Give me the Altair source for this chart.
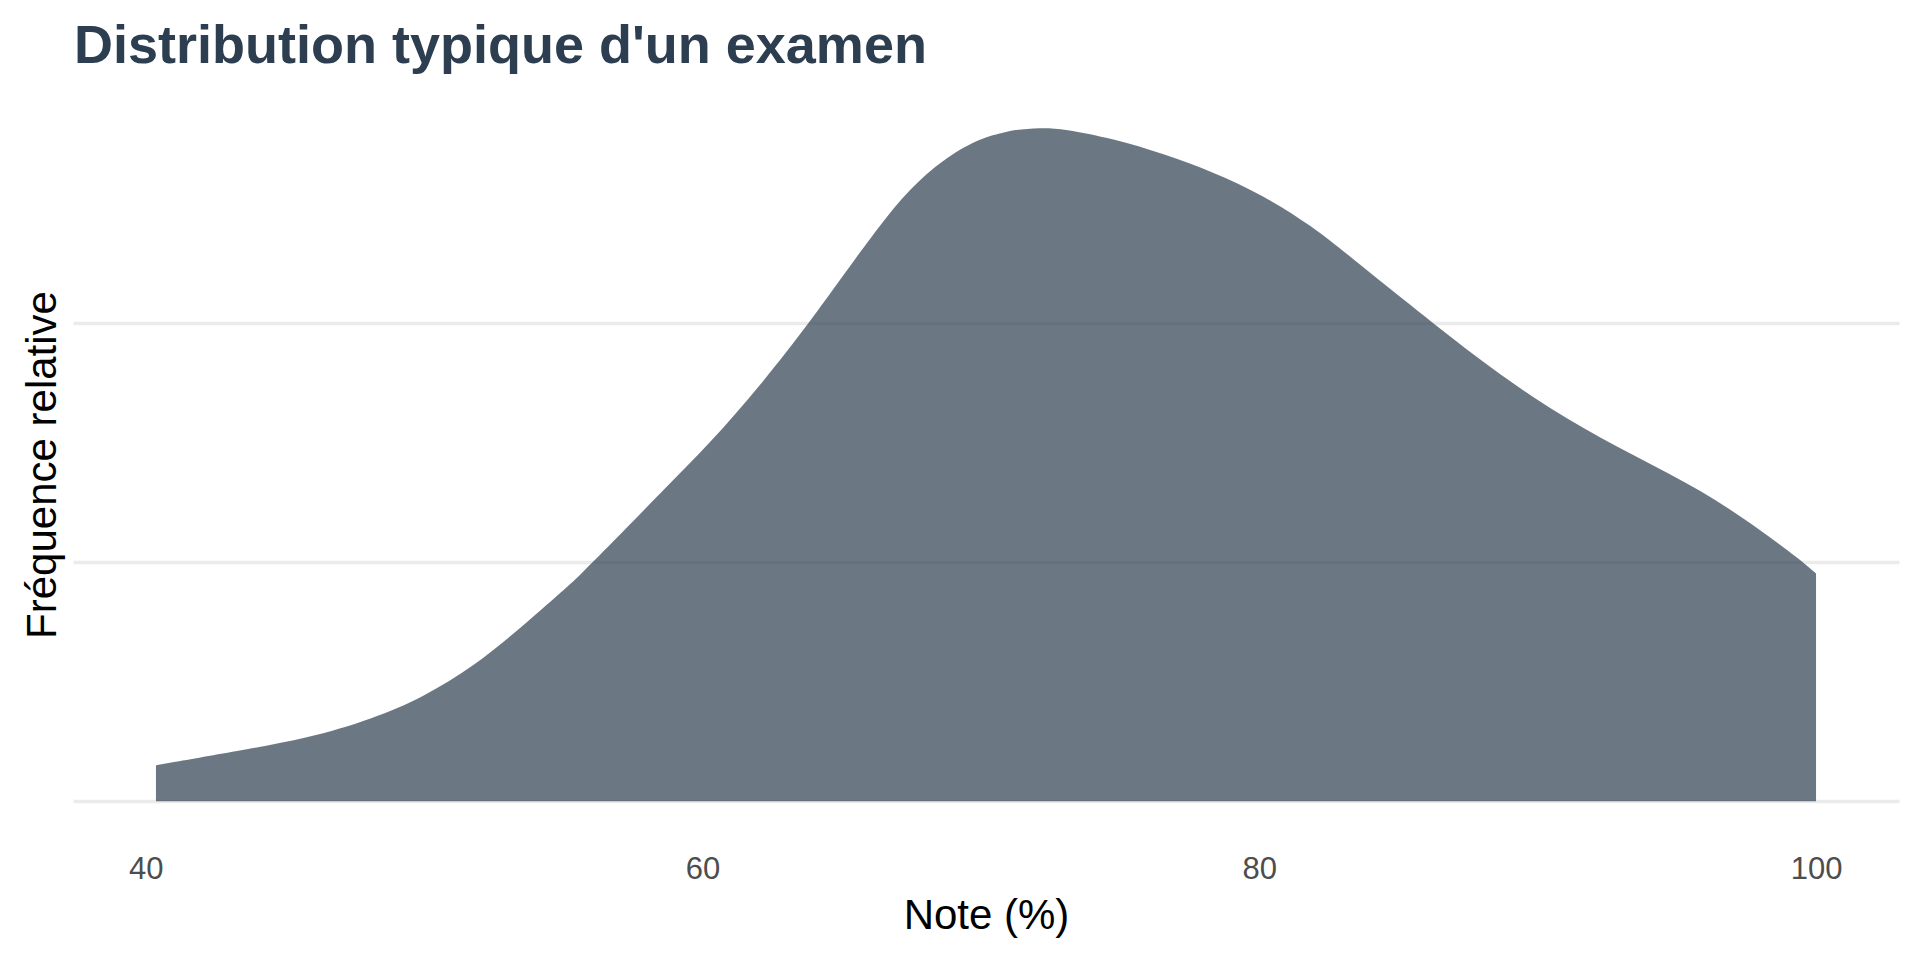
import altair as alt
import pandas as pd

# Note (%) values along the density curve
notes = [40.37, 43.39, 45.78, 48.18, 49.97, 51.77, 53.57, 54.89, 55.60, 56.68,
         58.48, 60.27, 62.07, 63.87, 65.06, 66.26, 67.46, 68.66, 69.86, 70.70,
         71.17, 72.13, 72.97, 74.76, 76.56, 78.36, 80.15, 81.95, 83.15, 84.35,
         85.07, 86.26, 87.46, 88.66, 89.85, 91.05, 92.25, 93.45, 94.65, 95.84,
         97.04, 98.24, 99.44, 100.0]
# relative frequency (density)
densite = [0.00151, 0.00213, 0.00262, 0.00346, 0.00436, 0.00562, 0.00736, 0.00871, 0.00946, 0.01073,
           0.01289, 0.01498, 0.01738, 0.02008, 0.02201, 0.02395, 0.02567, 0.02687, 0.02769, 0.02795,
           0.02810, 0.02819, 0.02815, 0.02773, 0.02710, 0.02633, 0.02536, 0.02403, 0.02290, 0.02177,
           0.02110, 0.02000, 0.01890, 0.01786, 0.01690, 0.01601, 0.01522, 0.01448, 0.01376, 0.01300,
           0.01213, 0.01115, 0.01010, 0.00953]

x_ticks = [40, 60, 80, 100]
y_grid = [0, 0.01, 0.02]

df = pd.DataFrame({"note": notes, "densite": densite})

FONT = "Liberation Sans"

area = alt.Chart(df).mark_area(
    color="#2c3e50", opacity=0.7, interpolate="basis"
).encode(
    x=alt.X("note:Q",
            scale=alt.Scale(domain=[37.39, 102.98], nice=False, zero=False),
            axis=alt.Axis(values=x_ticks, grid=False, domain=False, ticks=False, tickSize=0,
                          labelFontSize=31, labelColor="#4d4d4d", labelFont=FONT,
                          labelPadding=34, labelBaseline="middle",
                          title="Note (%)", titleFontSize=42, titleFont=FONT,
                          titleFontWeight="normal", titleColor="#000000",
                          titleX=913, titleY=93, titleAlign="center",
                          titleBaseline="alphabetic")),
    y=alt.Y("densite:Q",
            scale=alt.Scale(domain=[-0.00141, 0.0296], nice=False, zero=False),
            axis=alt.Axis(values=y_grid, grid=True, gridColor="#ebebeb", gridWidth=3.4,
                          domain=False, ticks=False, labels=False,
                          title="Fréquence relative", titleFontSize=42, titleFont=FONT,
                          titleFontWeight="normal", titleColor="#000000",
                          titleX=-18, titleY=370.5, titleAngle=270,
                          titleAlign="center", titleBaseline="alphabetic")),
    y2=alt.datum(0),
).properties(
    width=1826,
    height=741,
    title=alt.TitleParams("Distribution typique d'un examen", anchor="start",
                          fontSize=54, fontWeight="bold", color="#2c3e50",
                          font=FONT, offset=33, baseline="alphabetic", dy=56, dx=53),
    autosize=alt.AutoSizeParams(type="none"),
    padding={"left": 65, "top": 86, "right": 10, "bottom": 120},
    background="white",
).configure_view(stroke=None)

area.save("out.html", embed_options={"renderer": "svg", "actions": False})
